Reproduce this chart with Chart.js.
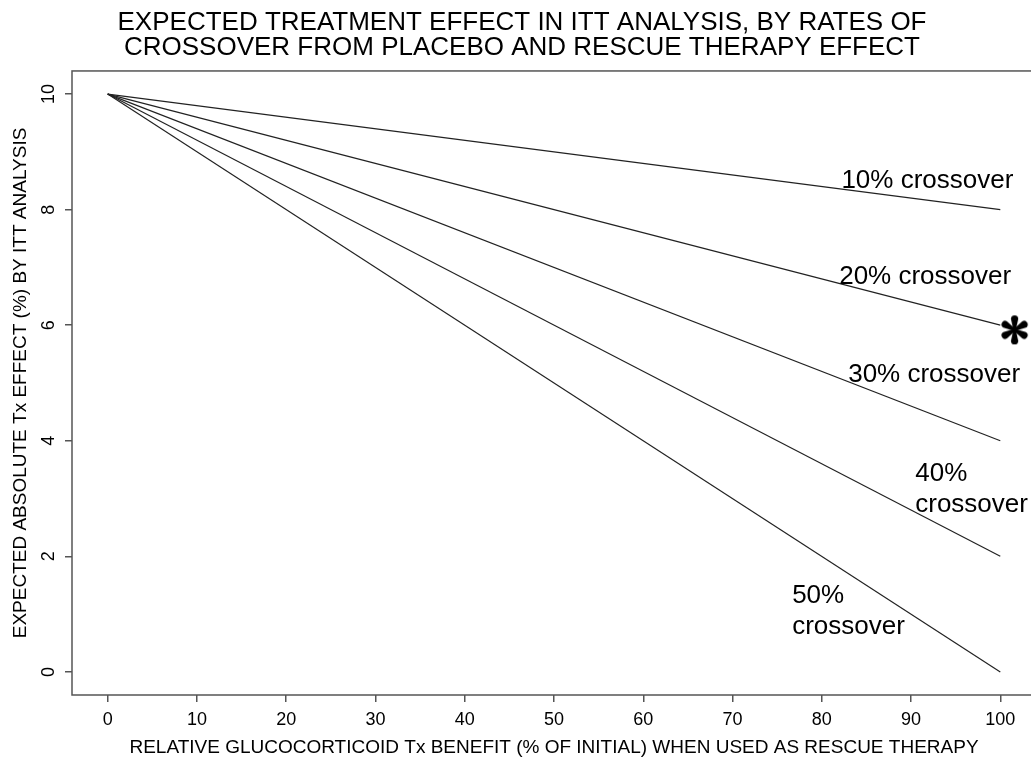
<!DOCTYPE html>
<html>
<head>
<meta charset="utf-8">
<script src="https://cdn.jsdelivr.net/npm/chart.js@4"></script>
<style>
  html, body { margin: 0; padding: 0; background: #fff; overflow: hidden; }
  #wrap { position: relative; width: 1044px; height: 762px; }
</style>
</head>
<body>
<div id="wrap"><canvas id="chart"></canvas></div>
<script>
const titleLines = ['EXPECTED TREATMENT EFFECT IN ITT ANALYSIS, BY RATES OF', 'CROSSOVER FROM PLACEBO AND RESCUE THERAPY EFFECT'];
const xTitle = 'RELATIVE GLUCOCORTICOID Tx BENEFIT (% OF INITIAL) WHEN USED AS RESCUE THERAPY';
const yTitle = 'EXPECTED ABSOLUTE Tx EFFECT (%) BY ITT ANALYSIS';

// x = rescue therapy benefit (%), one series per crossover rate
const rescueBenefit = [0, 100];
const crossoverRates = [10, 20, 30, 40, 50];
const effect10 = [10, 8];
const effect20 = [10, 6];
const effect30 = [10, 4];
const effect40 = [10, 2];
const effect50 = [10, 0];
const seriesValues = [effect10, effect20, effect30, effect40, effect50];

const xTicks = [0, 10, 20, 30, 40, 50, 60, 70, 80, 90, 100];
const yTicks = [0, 2, 4, 6, 8, 10];

// text labels next to the lines, anchored in data units
const lineLabels = [['10% crossover'], ['20% crossover'], ['30% crossover'], ['40%', 'crossover'], ['50%', 'crossover']];
const labelX = [82.2, 81.95, 82.96, 90.47, 76.68];
const labelY = [8.37, 6.71, 5.02, 3.30, 1.19];

// the asterisk marker
const markerX = [101.6];
const markerY = [5.92];

const FONT = '"Liberation Sans", Arial, Helvetica, sans-serif';

// six teardrop arms, like a heavy text asterisk
function makeStar(size) {
  const c = document.createElement('canvas');
  c.width = size + 4;
  c.height = size + 4;
  const g = c.getContext('2d');
  const cx = c.width / 2, cy = c.height / 2;
  const R = size / 2;
  const tipR = R * 0.25;
  const d = R - tipR;
  const base = 1.2;
  g.fillStyle = '#000';
  [90, 30, -30, -90, -150, 150].forEach(deg => {
    const t = deg * Math.PI / 180;
    const tx = cx + Math.cos(t) * d, ty = cy - Math.sin(t) * d;
    g.beginPath();
    g.moveTo(cx - Math.sin(t) * base, cy - Math.cos(t) * base);
    g.lineTo(tx - Math.sin(t) * tipR, ty - Math.cos(t) * tipR);
    g.arc(tx, ty, tipR, -t - Math.PI / 2, -t + Math.PI / 2, false);
    g.lineTo(cx + Math.sin(t) * base, cy + Math.cos(t) * base);
    g.closePath();
    g.fill();
  });
  g.beginPath();
  g.arc(cx, cy, 2, 0, Math.PI * 2);
  g.fill();
  return c;
}

const lineLabelsPlugin = {
  id: 'lineLabels',
  afterDatasetsDraw(chart) {
    const { ctx, chartArea: a, scales: { x, y } } = chart;
    ctx.save();
    ctx.strokeStyle = '#555';
    ctx.lineWidth = 1.5;
    ctx.strokeRect(a.left, a.top, a.right - a.left, a.bottom - a.top);
    ctx.font = '26px ' + FONT;
    ctx.fillStyle = '#000';
    ctx.textAlign = 'left';
    ctx.textBaseline = 'alphabetic';
    lineLabels.forEach((lines, i) => {
      const px = x.getPixelForValue(labelX[i]);
      const py = y.getPixelForValue(labelY[i]);
      lines.forEach((t, j) => ctx.fillText(t, px, py + j * 31));
    });
    ctx.restore();
  }
};

const datasets = seriesValues.map((vals, i) => ({
  label: crossoverRates[i] + '% crossover',
  data: rescueBenefit.map((b, k) => ({ x: b, y: vals[k] })),
  borderColor: '#222',
  borderWidth: 1.2,
  pointRadius: 0,
  fill: false,
  tension: 0
}));
datasets.push({
  label: 'marker',
  data: markerX.map((v, k) => ({ x: v, y: markerY[k] })),
  showLine: false,
  pointStyle: makeStar(29),
  pointRadius: 15,
  clip: false
});

new Chart(document.getElementById('chart'), {
  type: 'line',
  data: { datasets: datasets },
  options: {
    responsive: true,
    maintainAspectRatio: false,
    animation: false,
    layout: { autoPadding: false, padding: { left: 8, right: 8, top: 0, bottom: 0 } },
    plugins: {
      legend: { display: false },
      tooltip: { enabled: false },
      title: {
        display: true,
        text: titleLines,
        color: '#000',
        font: { family: FONT, size: 26, weight: 'normal', lineHeight: 0.98 },
        padding: { top: 10, bottom: 10 }
      }
    },
    scales: {
      x: {
        type: 'linear',
        min: -4,
        max: 104,
        afterBuildTicks: s => { s.ticks = xTicks.map(v => ({ value: v })); },
        afterFit: s => { s.height = 67; },
        grid: { drawOnChartArea: false, drawTicks: true, tickLength: 7, color: '#555', lineWidth: 1.5 },
        border: { display: false },
        ticks: { color: '#000', font: { family: FONT, size: 18 }, padding: 7, maxRotation: 0 },
        title: { display: true, text: xTitle, color: '#000', font: { family: FONT, size: 19 }, padding: { top: 0, bottom: 3 } }
      },
      y: {
        type: 'linear',
        min: -0.4,
        max: 10.4,
        afterBuildTicks: s => { s.ticks = yTicks.map(v => ({ value: v })); },
        afterFit: s => { s.width = 64; },
        grid: { drawOnChartArea: false, drawTicks: true, tickLength: 7, color: '#555', lineWidth: 1.5 },
        border: { display: false },
        ticks: { color: '#000', font: { family: FONT, size: 18 }, padding: 6, minRotation: 90, maxRotation: 90, crossAlign: 'center' },
        title: { display: true, text: yTitle, color: '#000', font: { family: FONT, size: 19 }, padding: { top: 1, bottom: 0 } }
      }
    }
  },
  plugins: [lineLabelsPlugin]
});
</script>
</body>
</html>
